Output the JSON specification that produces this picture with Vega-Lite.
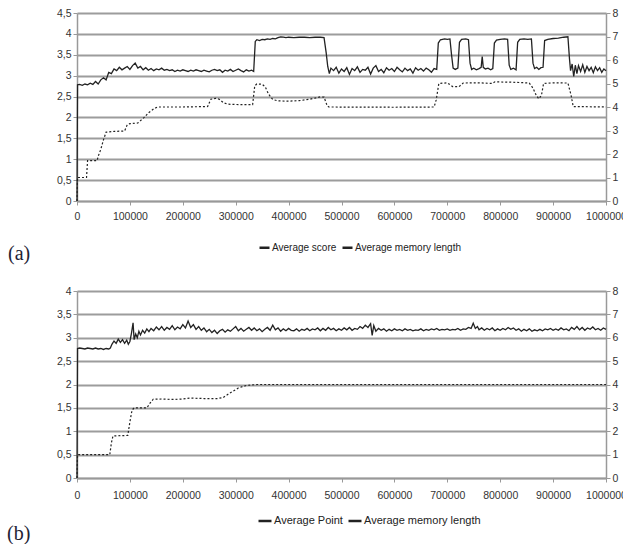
{
  "$schema": "https://vega.github.io/schema/vega-lite/v6.json",
  "padding": {"left": 7, "top": 8, "right": 0, "bottom": 0},
  "autosize": {"type": "pad"},
  "background": "white",
  "spacing": 22,
  "config": {
    "view": {"stroke": null},
    "axis": {"labelFont": "Liberation Sans", "labelFontSize": 10.5, "labelColor": "#333", "domainColor": "#999", "tickColor": "#999", "gridColor": "#9c9c9c", "gridWidth": 2, "domainWidth": 1.5, "tickSize": 4, "title": null},
    "legend": {"orient": "none", "direction": "horizontal", "title": null, "labelFont": "Liberation Sans", "labelFontSize": 10, "labelColor": "#222", "symbolType": "stroke", "symbolStrokeWidth": 2.5, "symbolSize": 100, "labelOffset": 1, "columnPadding": 0, "padding": 0},
    "title": {"font": "Liberation Serif", "fontSize": 20, "fontWeight": "normal", "color": "#223"}
  },
  "resolve": {"scale": {"color": "independent"}, "legend": {"color": "independent"}},
  "datasets": {
    "scoreA": [{"x":0,"y":0},{"x":1000,"y":2.78},{"x":5000,"y":2.79},{"x":10000,"y":2.77},{"x":15000,"y":2.8},{"x":20000,"y":2.78},{"x":25000,"y":2.82},{"x":30000,"y":2.79},{"x":35000,"y":2.86},{"x":40000,"y":2.8},{"x":45000,"y":2.9},{"x":50000,"y":2.95},{"x":55000,"y":2.9},{"x":60000,"y":3.08},{"x":65000,"y":3.05},{"x":70000,"y":3.16},{"x":75000,"y":3.12},{"x":80000,"y":3.2},{"x":85000,"y":3.14},{"x":90000,"y":3.18},{"x":95000,"y":3.22},{"x":100000,"y":3.15},{"x":105000,"y":3.24},{"x":110000,"y":3.3},{"x":115000,"y":3.18},{"x":120000,"y":3.22},{"x":125000,"y":3.14},{"x":130000,"y":3.19},{"x":135000,"y":3.13},{"x":140000,"y":3.17},{"x":145000,"y":3.12},{"x":150000,"y":3.16},{"x":155000,"y":3.14},{"x":160000,"y":3.18},{"x":165000,"y":3.13},{"x":170000,"y":3.15},{"x":175000,"y":3.12},{"x":180000,"y":3.14},{"x":185000,"y":3.1},{"x":190000,"y":3.13},{"x":195000,"y":3.11},{"x":200000,"y":3.14},{"x":205000,"y":3.12},{"x":210000,"y":3.1},{"x":215000,"y":3.13},{"x":220000,"y":3.11},{"x":225000,"y":3.14},{"x":230000,"y":3.12},{"x":235000,"y":3.1},{"x":240000,"y":3.13},{"x":245000,"y":3.11},{"x":250000,"y":3.09},{"x":255000,"y":3.13},{"x":260000,"y":3.15},{"x":265000,"y":3.12},{"x":270000,"y":3.14},{"x":275000,"y":3.08},{"x":280000,"y":3.13},{"x":285000,"y":3.11},{"x":290000,"y":3.15},{"x":295000,"y":3.1},{"x":300000,"y":3.13},{"x":305000,"y":3.16},{"x":310000,"y":3.12},{"x":315000,"y":3.09},{"x":320000,"y":3.14},{"x":325000,"y":3.11},{"x":330000,"y":3.13},{"x":334000,"y":3.1},{"x":337000,"y":3.82},{"x":340000,"y":3.86},{"x":345000,"y":3.84},{"x":350000,"y":3.87},{"x":355000,"y":3.86},{"x":360000,"y":3.88},{"x":365000,"y":3.87},{"x":370000,"y":3.89},{"x":375000,"y":3.88},{"x":380000,"y":3.91},{"x":385000,"y":3.93},{"x":390000,"y":3.92},{"x":395000,"y":3.91},{"x":400000,"y":3.92},{"x":410000,"y":3.91},{"x":420000,"y":3.92},{"x":430000,"y":3.92},{"x":440000,"y":3.91},{"x":450000,"y":3.92},{"x":460000,"y":3.92},{"x":467000,"y":3.91},{"x":471000,"y":3.55},{"x":474000,"y":3.22},{"x":477000,"y":3.05},{"x":480000,"y":3.18},{"x":485000,"y":3.12},{"x":490000,"y":3.2},{"x":495000,"y":3.06},{"x":500000,"y":3.16},{"x":505000,"y":3.1},{"x":510000,"y":3.19},{"x":515000,"y":3.03},{"x":520000,"y":3.17},{"x":525000,"y":3.12},{"x":530000,"y":3.21},{"x":535000,"y":3.08},{"x":540000,"y":3.15},{"x":545000,"y":3.13},{"x":550000,"y":3.2},{"x":555000,"y":3.04},{"x":560000,"y":3.18},{"x":565000,"y":3.24},{"x":570000,"y":3.1},{"x":575000,"y":3.15},{"x":580000,"y":3.07},{"x":585000,"y":3.19},{"x":590000,"y":3.13},{"x":595000,"y":3.17},{"x":600000,"y":3.1},{"x":605000,"y":3.2},{"x":610000,"y":3.14},{"x":615000,"y":3.09},{"x":620000,"y":3.18},{"x":625000,"y":3.12},{"x":630000,"y":3.16},{"x":635000,"y":3.06},{"x":640000,"y":3.19},{"x":645000,"y":3.13},{"x":650000,"y":3.17},{"x":655000,"y":3.11},{"x":660000,"y":3.18},{"x":665000,"y":3.14},{"x":670000,"y":3.08},{"x":675000,"y":3.17},{"x":680000,"y":3.15},{"x":683000,"y":3.78},{"x":687000,"y":3.86},{"x":695000,"y":3.88},{"x":700000,"y":3.87},{"x":705000,"y":3.88},{"x":708000,"y":3.5},{"x":711000,"y":3.18},{"x":715000,"y":3.15},{"x":720000,"y":3.18},{"x":723000,"y":3.8},{"x":727000,"y":3.87},{"x":735000,"y":3.88},{"x":740000,"y":3.86},{"x":743000,"y":3.3},{"x":746000,"y":3.15},{"x":750000,"y":3.18},{"x":755000,"y":3.14},{"x":760000,"y":3.17},{"x":764000,"y":3.2},{"x":766000,"y":3.46},{"x":768000,"y":3.2},{"x":772000,"y":3.16},{"x":777000,"y":3.18},{"x":782000,"y":3.14},{"x":786000,"y":3.17},{"x":789000,"y":3.78},{"x":793000,"y":3.85},{"x":800000,"y":3.87},{"x":808000,"y":3.88},{"x":814000,"y":3.87},{"x":817000,"y":3.25},{"x":820000,"y":3.15},{"x":825000,"y":3.18},{"x":830000,"y":3.14},{"x":833000,"y":3.8},{"x":837000,"y":3.87},{"x":845000,"y":3.88},{"x":852000,"y":3.87},{"x":859000,"y":3.88},{"x":862000,"y":3.3},{"x":865000,"y":3.17},{"x":869000,"y":3.2},{"x":873000,"y":3.15},{"x":877000,"y":3.19},{"x":881000,"y":3.2},{"x":884000,"y":3.84},{"x":890000,"y":3.87},{"x":900000,"y":3.89},{"x":910000,"y":3.9},{"x":920000,"y":3.92},{"x":928000,"y":3.93},{"x":931000,"y":3.4},{"x":933000,"y":3.12},{"x":936000,"y":3.28},{"x":939000,"y":2.98},{"x":942000,"y":3.25},{"x":945000,"y":3.05},{"x":948000,"y":3.24},{"x":952000,"y":3.1},{"x":956000,"y":3.26},{"x":960000,"y":3.08},{"x":964000,"y":3.22},{"x":968000,"y":3.12},{"x":972000,"y":3.2},{"x":976000,"y":3.07},{"x":980000,"y":3.21},{"x":984000,"y":3.12},{"x":988000,"y":3.19},{"x":992000,"y":3.08},{"x":996000,"y":3.16},{"x":1000000,"y":3.12}],
    "memA": [{"x":0,"y":0},{"x":1000,"y":1.0},{"x":18000,"y":1.0},{"x":20000,"y":1.72},{"x":38000,"y":1.72},{"x":40000,"y":1.9},{"x":45000,"y":2.2},{"x":50000,"y":2.6},{"x":55000,"y":2.93},{"x":70000,"y":2.96},{"x":90000,"y":2.98},{"x":95000,"y":3.25},{"x":100000,"y":3.29},{"x":115000,"y":3.32},{"x":120000,"y":3.42},{"x":127000,"y":3.56},{"x":135000,"y":3.75},{"x":145000,"y":3.92},{"x":152000,"y":4.0},{"x":200000,"y":4.0},{"x":247000,"y":4.02},{"x":253000,"y":4.33},{"x":262000,"y":4.37},{"x":269000,"y":4.33},{"x":277000,"y":4.18},{"x":285000,"y":4.12},{"x":310000,"y":4.1},{"x":332000,"y":4.1},{"x":336000,"y":4.9},{"x":340000,"y":4.98},{"x":350000,"y":4.97},{"x":356000,"y":4.85},{"x":362000,"y":4.55},{"x":370000,"y":4.32},{"x":380000,"y":4.26},{"x":400000,"y":4.25},{"x":420000,"y":4.27},{"x":440000,"y":4.33},{"x":460000,"y":4.43},{"x":467000,"y":4.42},{"x":473000,"y":4.05},{"x":476000,"y":4.0},{"x":600000,"y":3.99},{"x":675000,"y":4.0},{"x":679000,"y":4.3},{"x":684000,"y":5.0},{"x":700000,"y":5.03},{"x":705000,"y":4.95},{"x":710000,"y":4.87},{"x":722000,"y":4.86},{"x":730000,"y":5.02},{"x":760000,"y":5.03},{"x":785000,"y":5.0},{"x":790000,"y":5.07},{"x":830000,"y":5.05},{"x":855000,"y":5.02},{"x":862000,"y":4.8},{"x":868000,"y":4.5},{"x":873000,"y":4.35},{"x":878000,"y":4.5},{"x":882000,"y":5.0},{"x":900000,"y":5.03},{"x":928000,"y":5.02},{"x":934000,"y":4.5},{"x":938000,"y":4.02},{"x":1000000,"y":4.0}],
    "scoreB": [{"x":0,"y":0},{"x":1000,"y":2.77},{"x":5000,"y":2.78},{"x":10000,"y":2.77},{"x":15000,"y":2.76},{"x":20000,"y":2.78},{"x":25000,"y":2.77},{"x":30000,"y":2.76},{"x":35000,"y":2.78},{"x":40000,"y":2.76},{"x":45000,"y":2.77},{"x":50000,"y":2.75},{"x":55000,"y":2.77},{"x":60000,"y":2.76},{"x":63000,"y":2.78},{"x":66000,"y":2.86},{"x":70000,"y":2.93},{"x":74000,"y":2.88},{"x":78000,"y":2.97},{"x":82000,"y":2.9},{"x":86000,"y":2.96},{"x":90000,"y":2.88},{"x":94000,"y":2.95},{"x":97000,"y":2.86},{"x":100000,"y":2.92},{"x":103000,"y":3.1},{"x":106000,"y":3.32},{"x":108000,"y":2.96},{"x":111000,"y":3.08},{"x":114000,"y":3.0},{"x":117000,"y":3.14},{"x":120000,"y":3.06},{"x":124000,"y":3.16},{"x":128000,"y":3.1},{"x":132000,"y":3.19},{"x":136000,"y":3.13},{"x":140000,"y":3.2},{"x":145000,"y":3.15},{"x":150000,"y":3.23},{"x":155000,"y":3.17},{"x":160000,"y":3.24},{"x":165000,"y":3.16},{"x":170000,"y":3.22},{"x":175000,"y":3.18},{"x":180000,"y":3.26},{"x":185000,"y":3.17},{"x":190000,"y":3.23},{"x":195000,"y":3.19},{"x":200000,"y":3.28},{"x":205000,"y":3.21},{"x":210000,"y":3.36},{"x":215000,"y":3.22},{"x":220000,"y":3.28},{"x":225000,"y":3.18},{"x":230000,"y":3.24},{"x":235000,"y":3.16},{"x":240000,"y":3.21},{"x":245000,"y":3.13},{"x":250000,"y":3.18},{"x":255000,"y":3.11},{"x":260000,"y":3.16},{"x":265000,"y":3.09},{"x":270000,"y":3.15},{"x":275000,"y":3.18},{"x":280000,"y":3.12},{"x":285000,"y":3.17},{"x":290000,"y":3.14},{"x":295000,"y":3.19},{"x":300000,"y":3.24},{"x":305000,"y":3.15},{"x":310000,"y":3.2},{"x":315000,"y":3.14},{"x":320000,"y":3.18},{"x":325000,"y":3.22},{"x":330000,"y":3.16},{"x":335000,"y":3.21},{"x":340000,"y":3.15},{"x":345000,"y":3.19},{"x":350000,"y":3.13},{"x":355000,"y":3.18},{"x":360000,"y":3.22},{"x":365000,"y":3.16},{"x":370000,"y":3.27},{"x":375000,"y":3.17},{"x":380000,"y":3.21},{"x":385000,"y":3.14},{"x":390000,"y":3.19},{"x":395000,"y":3.15},{"x":400000,"y":3.2},{"x":405000,"y":3.16},{"x":410000,"y":3.15},{"x":415000,"y":3.19},{"x":420000,"y":3.14},{"x":425000,"y":3.18},{"x":430000,"y":3.16},{"x":435000,"y":3.2},{"x":440000,"y":3.15},{"x":445000,"y":3.19},{"x":450000,"y":3.17},{"x":455000,"y":3.21},{"x":460000,"y":3.15},{"x":465000,"y":3.2},{"x":470000,"y":3.16},{"x":475000,"y":3.22},{"x":480000,"y":3.17},{"x":485000,"y":3.2},{"x":490000,"y":3.15},{"x":495000,"y":3.19},{"x":500000,"y":3.16},{"x":505000,"y":3.21},{"x":510000,"y":3.17},{"x":515000,"y":3.22},{"x":520000,"y":3.16},{"x":525000,"y":3.2},{"x":530000,"y":3.18},{"x":535000,"y":3.24},{"x":540000,"y":3.2},{"x":545000,"y":3.27},{"x":550000,"y":3.22},{"x":555000,"y":3.3},{"x":558000,"y":3.05},{"x":561000,"y":3.26},{"x":565000,"y":3.14},{"x":570000,"y":3.2},{"x":575000,"y":3.16},{"x":580000,"y":3.19},{"x":585000,"y":3.14},{"x":590000,"y":3.18},{"x":595000,"y":3.15},{"x":600000,"y":3.19},{"x":605000,"y":3.16},{"x":610000,"y":3.18},{"x":615000,"y":3.15},{"x":620000,"y":3.19},{"x":625000,"y":3.16},{"x":630000,"y":3.18},{"x":635000,"y":3.15},{"x":640000,"y":3.17},{"x":645000,"y":3.16},{"x":650000,"y":3.19},{"x":655000,"y":3.15},{"x":660000,"y":3.18},{"x":665000,"y":3.16},{"x":670000,"y":3.19},{"x":675000,"y":3.17},{"x":680000,"y":3.2},{"x":685000,"y":3.16},{"x":690000,"y":3.18},{"x":695000,"y":3.17},{"x":700000,"y":3.19},{"x":705000,"y":3.16},{"x":710000,"y":3.18},{"x":715000,"y":3.17},{"x":720000,"y":3.2},{"x":725000,"y":3.16},{"x":730000,"y":3.19},{"x":735000,"y":3.18},{"x":740000,"y":3.22},{"x":745000,"y":3.2},{"x":749000,"y":3.31},{"x":753000,"y":3.2},{"x":757000,"y":3.24},{"x":760000,"y":3.17},{"x":765000,"y":3.21},{"x":770000,"y":3.16},{"x":775000,"y":3.2},{"x":780000,"y":3.17},{"x":785000,"y":3.21},{"x":790000,"y":3.15},{"x":795000,"y":3.19},{"x":800000,"y":3.16},{"x":805000,"y":3.2},{"x":810000,"y":3.17},{"x":815000,"y":3.22},{"x":820000,"y":3.18},{"x":825000,"y":3.21},{"x":830000,"y":3.16},{"x":835000,"y":3.19},{"x":840000,"y":3.14},{"x":845000,"y":3.18},{"x":850000,"y":3.15},{"x":855000,"y":3.19},{"x":860000,"y":3.14},{"x":865000,"y":3.17},{"x":870000,"y":3.15},{"x":875000,"y":3.18},{"x":880000,"y":3.15},{"x":885000,"y":3.19},{"x":890000,"y":3.17},{"x":895000,"y":3.2},{"x":900000,"y":3.16},{"x":905000,"y":3.19},{"x":910000,"y":3.16},{"x":915000,"y":3.21},{"x":920000,"y":3.17},{"x":925000,"y":3.19},{"x":930000,"y":3.15},{"x":935000,"y":3.22},{"x":940000,"y":3.18},{"x":945000,"y":3.24},{"x":950000,"y":3.17},{"x":955000,"y":3.22},{"x":960000,"y":3.16},{"x":965000,"y":3.21},{"x":970000,"y":3.18},{"x":975000,"y":3.23},{"x":980000,"y":3.17},{"x":985000,"y":3.2},{"x":990000,"y":3.16},{"x":995000,"y":3.21},{"x":1000000,"y":3.18}],
    "memB": [{"x":0,"y":0},{"x":1000,"y":1.0},{"x":62000,"y":1.0},{"x":65000,"y":1.5},{"x":68000,"y":1.8},{"x":96000,"y":1.82},{"x":100000,"y":2.4},{"x":104000,"y":2.9},{"x":108000,"y":3.0},{"x":132000,"y":3.0},{"x":138000,"y":3.2},{"x":144000,"y":3.37},{"x":160000,"y":3.38},{"x":180000,"y":3.36},{"x":200000,"y":3.38},{"x":215000,"y":3.42},{"x":240000,"y":3.4},{"x":265000,"y":3.4},{"x":276000,"y":3.44},{"x":290000,"y":3.65},{"x":305000,"y":3.85},{"x":320000,"y":3.96},{"x":340000,"y":4.0},{"x":1000000,"y":4.0}]
  },
  "vconcat": [
    {
      "width": 529,
      "height": 188,
      "title": {"text": "(a)", "orient": "bottom", "anchor": "start", "frame": "group", "dx": -69, "dy": -13, "fontSize": 20},
      "layer": [
        {
          "data": {"name": "scoreA"},
          "mark": {"type": "line", "strokeWidth": 1.3, "color": "#222"},
          "encoding": {
            "x": {"field": "x", "type": "quantitative", "scale": {"domain": [0, 1000000], "nice": false}, "axis": {"values": [0,100000,200000,300000,400000,500000,600000,700000,800000,900000,1000000], "format": "d", "grid": false, "labelFlush": false, "labelPadding": 6, "labelOverlap": false}},
            "y": {"field": "y", "type": "quantitative", "scale": {"domain": [0, 4.5], "nice": false}, "axis": {"orient": "left", "values": [0,0.5,1,1.5,2,2.5,3,3.5,4,4.5], "grid": true, "labelExpr": "replace(toString(datum.value), '.', ',')", "labelPadding": 2}},
            "color": {"datum": "Average score", "type": "nominal", "scale": {"domain": ["Average score", "Average memory length"], "range": ["#222", "#222"]}, "legend": {"legendX": 181, "legendY": 228}}
          }
        },
        {
          "data": {"name": "memA"},
          "mark": {"type": "line", "strokeWidth": 1.2, "strokeDash": [2, 2], "color": "#555"},
          "encoding": {
            "x": {"field": "x", "type": "quantitative"},
            "y": {"field": "y", "type": "quantitative", "scale": {"domain": [0, 8], "nice": false}, "axis": {"orient": "right", "values": [0,1,2,3,4,5,6,7,8], "grid": false, "labelPadding": 2}},
            "color": {"datum": "Average memory length", "type": "nominal"}
          }
        }
      ],
      "resolve": {"scale": {"y": "independent"}}
    },
    {
      "width": 529,
      "height": 187,
      "title": {"text": "(b)", "orient": "bottom", "anchor": "start", "frame": "group", "dx": -70, "dy": -6, "fontSize": 20},
      "layer": [
        {
          "data": {"name": "scoreB"},
          "mark": {"type": "line", "strokeWidth": 1.3, "color": "#222"},
          "encoding": {
            "x": {"field": "x", "type": "quantitative", "scale": {"domain": [0, 1000000], "nice": false}, "axis": {"values": [0,100000,200000,300000,400000,500000,600000,700000,800000,900000,1000000], "format": "d", "grid": false, "labelFlush": false, "labelPadding": 8, "labelOverlap": false}},
            "y": {"field": "y", "type": "quantitative", "scale": {"domain": [0, 4], "nice": false}, "axis": {"orient": "left", "values": [0,0.5,1,1.5,2,2.5,3,3.5,4], "grid": true, "labelExpr": "replace(toString(datum.value), '.', ',')", "labelPadding": 2}},
            "color": {"datum": "Average Point", "type": "nominal", "scale": {"domain": ["Average Point", "Average memory length"], "range": ["#222", "#222"]}, "legend": {"legendX": 180, "legendY": 222, "labelFontSize": 11, "symbolSize": 169}}
          }
        },
        {
          "data": {"name": "memB"},
          "mark": {"type": "line", "strokeWidth": 1.2, "strokeDash": [2, 2], "color": "#555"},
          "encoding": {
            "x": {"field": "x", "type": "quantitative"},
            "y": {"field": "y", "type": "quantitative", "scale": {"domain": [0, 8], "nice": false}, "axis": {"orient": "right", "values": [0,1,2,3,4,5,6,7,8], "grid": false, "labelPadding": 2}},
            "color": {"datum": "Average memory length", "type": "nominal"}
          }
        }
      ],
      "resolve": {"scale": {"y": "independent"}}
    }
  ]
}
